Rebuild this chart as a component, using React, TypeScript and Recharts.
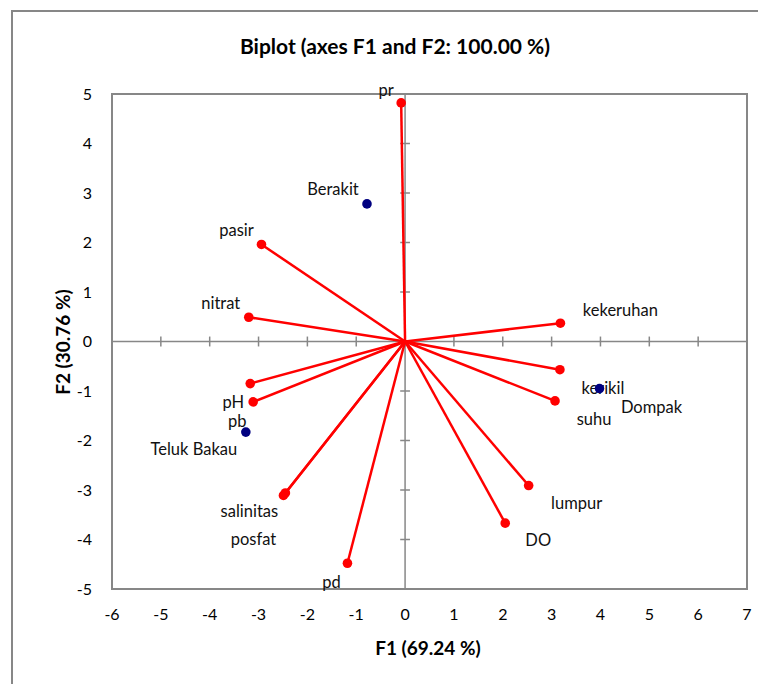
import React from 'react';
import { ScatterChart, Scatter, XAxis, YAxis, ReferenceLine, ReferenceArea } from 'recharts';

const variableNames = ['pr', 'pasir', 'nitrat', 'kekeruhan', 'kerikil', 'suhu', 'lumpur', 'DO', 'pd', 'posfat', 'salinitas', 'pb', 'pH'];
const variableF1 = [-0.08, -2.94, -3.2, 3.18, 3.17, 3.07, 2.53, 2.05, -1.18, -2.49, -2.45, -3.11, -3.17];
const variableF2 = [4.82, 1.96, 0.49, 0.37, -0.57, -1.2, -2.91, -3.67, -4.48, -3.11, -3.06, -1.22, -0.85];

const observationNames = ['Berakit', 'Dompak', 'Teluk Bakau'];
const observationF1 = [-0.78, 3.98, -3.26];
const observationF2 = [2.78, -0.95, -1.83];

const xTicks = [-6, -5, -4, -3, -2, -1, 0, 1, 2, 3, 4, 5, 6, 7];
const yTicks = [-5, -4, -3, -2, -1, 0, 1, 2, 3, 4, 5];

// label placement offsets (pixels, label centre relative to point)
const LABEL_OFFSET: Record<string, [number, number]> = {
  pr: [-15, -13],
  pasir: [-25, -14],
  nitrat: [-28, -14],
  kekeruhan: [60, -13],
  kerikil: [43, 18],
  suhu: [39, 18],
  lumpur: [48, 17],
  DO: [33, 17],
  pd: [-16, 19],
  posfat: [-30, 44],
  salinitas: [-36, 18],
  pb: [-16, 19],
  pH: [-17, 18],
  Berakit: [-34, -15],
  Dompak: [52, 18],
  'Teluk Bakau': [-52, 17],
};

const variables = variableNames.map((name, i) => ({ name, x: variableF1[i], y: variableF2[i] }));
const observations = observationNames.map((name, i) => ({ name, x: observationF1[i], y: observationF2[i] }));

const W = 758;
const H = 676;
const FONT = 'Lato, "Open Sans", sans-serif';
const GRAY = '#878787';

const makeShape = (fill: string) => (props: any) => {
  const { cx, cy, payload } = props;
  const off = LABEL_OFFSET[payload.name] || [0, -14];
  return (
    <g>
      <circle cx={cx} cy={cy} r={4.8} fill={fill} />
      <text
        x={cx + off[0]}
        y={cy + off[1]}
        textAnchor="middle"
        dominantBaseline="central"
        fontFamily={FONT}
        fontSize={16.5}
        fill="#111"
      >
        {payload.name}
      </text>
    </g>
  );
};

const XTick = (props: any) => (
  <text x={props.x} y={props.y + 29} textAnchor="middle" fontFamily={FONT} fontSize={16} fill="#000">
    {props.payload.value}
  </text>
);

const YTick = (props: any) => (
  <text x={props.x - 18} y={props.y + 5.5} textAnchor="end" fontFamily={FONT} fontSize={16} fill="#000">
    {props.payload.value}
  </text>
);

export default function App() {
  return (
    <div style={{ position: 'relative', width: W, height: H, overflow: 'hidden', background: '#fff' }}>
      <div
        style={{
          position: 'absolute',
          left: 3,
          top: 2,
          width: 900,
          height: 900,
          border: `2px solid ${GRAY}`,
          boxSizing: 'border-box',
        }}
      />
      <div style={{ position: 'absolute', left: 0, top: 0 }}>
        <ScatterChart width={W} height={H} margin={{ top: 86, right: 19, bottom: 65, left: 64 }}>
          <XAxis
            type="number"
            dataKey="x"
            domain={[-6, 7]}
            ticks={xTicks}
            interval={0}
            axisLine={false}
            tickLine={false}
            tickSize={0}
            height={30}
            tick={XTick}
          />
          <YAxis
            type="number"
            dataKey="y"
            domain={[-5, 5]}
            ticks={yTicks}
            interval={0}
            axisLine={false}
            tickLine={false}
            tickSize={0}
            width={40}
            tick={YTick}
          />
          <ReferenceArea x1={-6} x2={7} y1={-5} y2={5} fill="none" stroke={GRAY} strokeWidth={2} />
          <ReferenceLine x={0} stroke={GRAY} strokeWidth={1.5} />
          <ReferenceLine y={0} stroke={GRAY} strokeWidth={1.5} />
          {xTicks.map((t) => (
            <ReferenceLine
              key={'xt' + t}
              segment={[{ x: t, y: -0.1 }, { x: t, y: 0.1 }]}
              stroke={GRAY}
              strokeWidth={1.5}
            />
          ))}
          {yTicks.map((t) => (
            <ReferenceLine
              key={'yt' + t}
              segment={[{ x: -0.1, y: t }, { x: 0.1, y: t }]}
              stroke={GRAY}
              strokeWidth={1.5}
            />
          ))}
          {variables.map((v) => (
            <ReferenceLine
              key={'v' + v.name}
              segment={[{ x: 0, y: 0 }, { x: v.x, y: v.y }]}
              stroke="#ff0000"
              strokeWidth={2.5}
            />
          ))}
          <Scatter data={variables} fill="#ff0000" isAnimationActive={false} shape={makeShape('#ff0000')} />
          <Scatter data={observations} fill="#000080" isAnimationActive={false} shape={makeShape('#000080')} />
        </ScatterChart>
      </div>
      <svg
        width={W}
        height={H}
        style={{ position: 'absolute', left: 0, top: 0, pointerEvents: 'none' }}
      >
        <text x={387} y={46} textAnchor="middle" fontFamily={FONT} fontWeight="bold" fontSize={21} fill="#000">
          Biplot (axes F1 and F2: 100.00 %)
        </text>
        <text x={420} y={639} textAnchor="middle" dominantBaseline="central" fontFamily={FONT} fontWeight="bold" fontSize={19} fill="#000">
          F1 (69.24 %)
        </text>
        <text
          x={54}
          y={334}
          textAnchor="middle"
          dominantBaseline="central"
          fontFamily={FONT}
          fontWeight="bold"
          fontSize={19}
          fill="#000"
          transform="rotate(-90, 54, 334)"
        >
          F2 (30.76 %)
        </text>
      </svg>
    </div>
  );
}
